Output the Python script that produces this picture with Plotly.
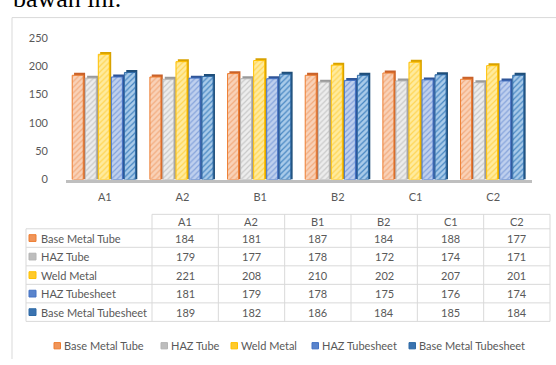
import plotly.graph_objects as go

# ---------------- data ----------------
categories = ["A1", "A2", "B1", "B2", "C1", "C2"]
series_names = ["Base Metal Tube", "HAZ Tube", "Weld Metal", "HAZ Tubesheet", "Base Metal Tubesheet"]
base_metal_tube = [184, 181, 187, 184, 188, 177]
haz_tube = [179, 177, 178, 172, 174, 171]
weld_metal = [221, 208, 210, 202, 207, 201]
haz_tubesheet = [181, 179, 178, 175, 176, 174]
base_metal_tubesheet = [189, 182, 186, 184, 185, 184]
y_ticks = [0, 50, 100, 150, 200, 250]
series_values = [base_metal_tube, haz_tube, weld_metal, haz_tubesheet, base_metal_tubesheet]

# ---------------- styles ----------------
styles = [
    dict(fill="#F9D2B8", hatch="#F2A779", edge="#ED7D31", side="#C9622A", icon="#F0955A"),
    dict(fill="#EDEDED", hatch="#C6C6C6", edge="#B4B4B4", side="#9A9A9A", icon="#BDBDBD"),
    dict(fill="#FFEB9E", hatch="#FFD34D", edge="#FFC000", side="#D8A200", icon="#FFCA2C"),
    dict(fill="#BFD0EE", hatch="#7F9FDA", edge="#4472C4", side="#2F5597", icon="#5A84CC"),
    dict(fill="#A9CBEA", hatch="#3D7FBE", edge="#2E6AA6", side="#1F4E79", icon="#3A73B0"),
]
TEXT = "#595959"
BORDER = "#D9D9D9"
FONT = "Lato"

W, H = 556, 365
def fx(px):
    return px / W
def fy(py):
    return 1 - py / H

# plot area in pixels
PX0, PX1 = 66, 532
PY_TOP, PY_BOT = 32, 179
y_range = [0, 250]
px_per_unit = (PY_BOT - PY_TOP) / (y_range[1] - y_range[0])
depth = 2.5 / px_per_unit  # 3D depth of the bars, in data units

fig = go.Figure()

slot = 0.168
face_w = 0.142
start = -2.5 * slot
for i, (name, vals, st) in enumerate(zip(series_names, series_values, styles)):
    off = start + i * slot
    # side / top face (3D look)
    fig.add_trace(go.Bar(
        x=categories, y=[v + depth for v in vals], offset=off + 0.024, width=face_w,
        marker=dict(color=st["side"], line=dict(width=0)),
        showlegend=False, hoverinfo="skip"))
    # front face
    fig.add_trace(go.Bar(
        x=categories, y=vals, offset=off, width=face_w, name=name,
        marker=dict(color=st["fill"], line=dict(color=st["edge"], width=1),
                    pattern=dict(shape="/", fillmode="overlay", fgcolor=st["hatch"],
                                 size=4, solidity=0.3, fgopacity=0.9)),
        showlegend=False, hoverinfo="skip"))

shapes = []
annotations = []

# chart frame (top and left visible)
shapes.append(dict(type="line", xref="paper", yref="paper", x0=fx(12), x1=fx(W), y0=fy(11), y1=fy(11),
                   line=dict(color=BORDER, width=1)))
shapes.append(dict(type="line", xref="paper", yref="paper", x0=fx(12), x1=fx(12), y0=fy(11), y1=fy(H),
                   line=dict(color=BORDER, width=1)))

# text above the chart (cut off at the top edge, as in the reference)
annotations.append(dict(text="bawah ini.", xref="paper", yref="paper", x=fx(11), y=fy(8),
                        xanchor="left", yanchor="bottom", showarrow=False,
                        font=dict(family="Liberation Serif", size=26, color="#000000")))

# ---------------- data table ----------------
col_x = [152 + k * (550 - 152) / 6 for k in range(7)]
label_x0 = 26
head_y0, head_y1 = 215, 230
row_y = [230 + k * (326 - 230) / 5 for k in range(6)]

def hline(x0, x1, y):
    shapes.append(dict(type="line", xref="paper", yref="paper", x0=fx(x0), x1=fx(x1), y0=fy(y), y1=fy(y),
                       line=dict(color=BORDER, width=1)))
def vline(x, y0, y1):
    shapes.append(dict(type="line", xref="paper", yref="paper", x0=fx(x), x1=fx(x), y0=fy(y0), y1=fy(y1),
                       line=dict(color=BORDER, width=1)))

hline(col_x[0], col_x[-1], head_y0)
for y in row_y:
    hline(label_x0, col_x[-1], y)
for x in col_x:
    vline(x, head_y0, row_y[-1])
vline(label_x0, row_y[0], row_y[-1])

for j, cat in enumerate(categories):
    cx = (col_x[j] + col_x[j + 1]) / 2
    annotations.append(dict(text=cat, xref="paper", yref="paper", x=fx(cx), y=fy((head_y0 + head_y1) / 2),
                            xanchor="center", yanchor="middle", showarrow=False,
                            font=dict(family=FONT, size=11, color=TEXT)))
for i, (name, vals, st) in enumerate(zip(series_names, series_values, styles)):
    cy = (row_y[i] + row_y[i + 1]) / 2
    shapes.append(dict(type="rect", xref="paper", yref="paper", x0=fx(29), x1=fx(36), y0=fy(cy + 3.5), y1=fy(cy - 3.5),
                       fillcolor=st["icon"], line=dict(color=st["edge"], width=1)))
    annotations.append(dict(text=name, xref="paper", yref="paper", x=fx(38.5), y=fy(cy),
                            xanchor="left", yanchor="middle", showarrow=False,
                            font=dict(family=FONT, size=11, color=TEXT)))
    for j, v in enumerate(vals):
        cx = (col_x[j] + col_x[j + 1]) / 2
        annotations.append(dict(text=str(v), xref="paper", yref="paper", x=fx(cx), y=fy(cy),
                                xanchor="center", yanchor="middle", showarrow=False,
                                font=dict(family=FONT, size=11, color=TEXT)))

# ---------------- legend (bottom) ----------------
legend_icon_x = [54, 161, 231, 312, 409]
legend_y = 351
for name, st, ix in zip(series_names, styles, legend_icon_x):
    shapes.append(dict(type="rect", xref="paper", yref="paper", x0=fx(ix), x1=fx(ix + 6.5),
                       y0=fy(legend_y + 3.5), y1=fy(legend_y - 3),
                       fillcolor=st["icon"], line=dict(color=st["edge"], width=1)))
    annotations.append(dict(text=name, xref="paper", yref="paper", x=fx(ix + 8), y=fy(legend_y),
                            xanchor="left", yanchor="middle", showarrow=False,
                            font=dict(family=FONT, size=11, color=TEXT)))

fig.update_layout(
    width=W, height=H,
    margin=dict(l=0, r=0, t=0, b=0),
    paper_bgcolor="white", plot_bgcolor="white",
    barmode="overlay",
    showlegend=False,
    shapes=shapes, annotations=annotations,
    xaxis=dict(domain=[fx(PX0), fx(PX1)], type="category", categoryorder="array", categoryarray=categories,
               showgrid=False, zeroline=False, showline=True, linecolor="#BFBFBF", linewidth=3,
               ticks="", ticklabelstandoff=5, layer="below traces",
               tickfont=dict(family=FONT, size=11, color=TEXT), fixedrange=True),
    yaxis=dict(domain=[fy(PY_BOT), fy(PY_TOP)], range=y_range, tickvals=y_ticks,
               showgrid=False, zeroline=False, showline=False, ticks="", ticklabelstandoff=17,
               tickfont=dict(family=FONT, size=11, color=TEXT), fixedrange=True),
)

fig.write_html("out.html")
